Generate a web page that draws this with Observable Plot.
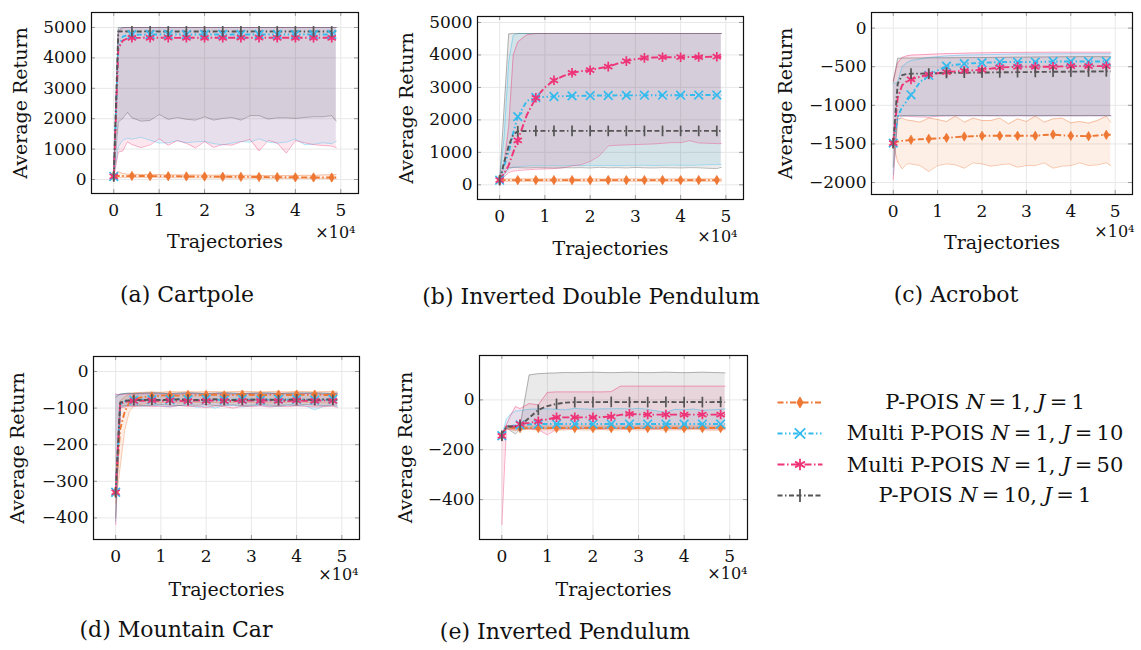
<!DOCTYPE html>
<html><head><meta charset="utf-8">
<script src="https://cdn.jsdelivr.net/npm/d3@7"></script>
<script src="https://cdn.jsdelivr.net/npm/@observablehq/plot@0.6"></script>
<style>
html,body{margin:0;padding:0;background:#fff;}
#root{position:relative;width:1141px;height:650px;overflow:hidden;font-family:"DejaVu Serif",serif;color:#111;}
.panel{position:absolute;}
.cap{position:absolute;font-size:22px;white-space:nowrap;transform:translate(-50%,-50%);}
.leg{position:absolute;font-size:21px;white-space:nowrap;transform:translate(-50%,-50%);}
</style></head><body><div id="root"></div>
<script>
// ---------------- data ----------------
const X = [0,1000,2000,3000,4000,6000,8000,10000,12000,14000,16000,18000,20000,22000,24000,26000,28000,30000,32000,34000,36000,38000,40000,42000,44000,46000,48000,49000];
const X_TICKS = [0,10000,20000,30000,40000,50000];

// (a) Cartpole
const cp_p1_mean = [110,118,115,112,118,115,112,110,108,105,102,100,98,95,92,90,88,85,82,80,78,75,72,70,68,66,65,65];
const cp_p1_lo = [80,60,65,65,70,68,66,64,62,60,58,56,55,52,50,48,46,44,42,40,38,36,34,32,30,30,28,28];
const cp_p1_hi = [140,260,200,175,175,165,160,165,150,155,148,150,145,140,150,138,135,140,130,135,125,130,128,140,135,150,160,165];
const cp_m10_mean = [100,4350,4700,4750,4760,4765,4770,4770,4772,4770,4768,4770,4772,4770,4771,4770,4769,4770,4772,4770,4771,4770,4770,4772,4770,4771,4770,4770];
const cp_m10_lo = [80,1080,1300,1350,1330,1390,1290,1200,1210,1280,1210,1240,1250,1180,1140,1200,1250,1230,1340,1230,1200,1230,1330,1150,1160,1210,1180,1260];
const cp_m10_hi = [120,4920,5000,5000,5000,5000,5000,5000,5000,5000,5000,5000,5000,5000,5000,5000,5000,5000,5000,5000,5000,5000,5000,5000,5000,5000,5000,5000];
const cp_m50_mean = [100,4300,4570,4640,4660,4660,4662,4665,4663,4660,4662,4664,4661,4663,4660,4662,4664,4661,4663,4660,4662,4664,4661,4663,4660,4662,4661,4661];
const cp_m50_lo = [80,900,940,1240,1150,1050,1140,1340,1130,1280,1190,1040,1250,1060,1150,1130,1240,1320,940,1290,1200,870,1280,1210,1150,1120,1100,1050];
const cp_m50_hi = [120,4880,4990,5000,5000,5000,5000,5000,5000,5000,5000,5000,5000,5000,5000,5000,5000,5000,5000,5000,5000,5000,5000,5000,5000,5000,5000,5000];
const cp_p10_mean = [100,4870,4872,4870,4871,4870,4872,4870,4871,4870,4872,4870,4871,4870,4872,4870,4871,4870,4872,4870,4871,4870,4872,4870,4871,4870,4871,4871];
const cp_p10_lo = [80,1900,2010,2210,2030,1920,1945,2140,1980,2040,1980,1955,2065,1955,2010,2040,1955,2100,2100,1990,2030,2030,2010,2040,2065,2065,2100,1920];
const cp_p10_hi = [120,5000,5000,5000,5000,5000,5000,5000,5000,5000,5000,5000,5000,5000,5000,5000,5000,5000,5000,5000,5000,5000,5000,5000,5000,5000,5000,5000];

// (b) Inverted Double Pendulum
const idp_p1_mean = [143,145,146,144,145,146,145,144,145,146,145,144,145,145,146,145,144,145,145,146,145,144,145,145,146,145,145,145];
const idp_p1_lo = [143,110,108,106,108,107,105,108,106,107,105,108,106,107,105,108,106,107,105,108,106,107,105,108,106,107,106,107];
const idp_p1_hi = [143,180,182,183,181,184,182,181,183,182,184,181,183,182,181,184,182,183,181,182,184,181,183,182,181,184,182,183];
const idp_m10_mean = [143,600,1000,1600,2100,2580,2690,2710,2720,2730,2740,2740,2745,2750,2750,2755,2755,2755,2760,2760,2760,2760,2760,2765,2765,2765,2765,2765];
const idp_m10_lo = [143,300,480,540,560,580,590,585,590,585,595,590,600,595,600,590,600,600,605,595,600,610,605,600,610,620,630,630];
const idp_m10_hi = [143,1500,3800,4600,4660,4660,4660,4660,4660,4660,4660,4660,4660,4660,4660,4660,4660,4660,4660,4660,4660,4660,4660,4660,4660,4660,4660,4660];
const idp_m50_mean = [143,350,600,1000,1370,2150,2680,3000,3220,3350,3450,3500,3530,3590,3640,3730,3810,3870,3910,3920,3930,3930,3930,3935,3935,3940,3945,3945];
const idp_m50_lo = [143,250,380,420,440,460,480,490,500,520,585,620,720,890,1200,1220,1230,1240,1250,1260,1280,1300,1300,1360,1290,1280,1270,1270];
const idp_m50_hi = [143,700,1800,4000,4400,4620,4660,4660,4660,4660,4660,4660,4660,4660,4660,4660,4660,4660,4660,4660,4660,4660,4660,4660,4660,4660,4660,4660];
const idp_p10_mean = [143,700,1200,1550,1650,1660,1660,1660,1660,1660,1660,1660,1660,1660,1660,1660,1660,1660,1660,1660,1660,1660,1660,1660,1660,1660,1660,1660];
const idp_p10_lo = [143,350,530,540,530,520,530,525,520,530,525,530,520,540,525,530,520,535,525,520,530,525,520,530,525,510,500,540];
const idp_p10_hi = [143,2400,4650,4660,4660,4660,4660,4660,4660,4660,4660,4660,4660,4660,4660,4660,4660,4660,4660,4660,4660,4660,4660,4660,4660,4660,4660,4660];

// (c) Acrobot
const ac_p1_mean = [-1490,-1470,-1460,-1455,-1447,-1440,-1434,-1428,-1421,-1412,-1404,-1400,-1395,-1395,-1395,-1395,-1395,-1395,-1395,-1385,-1378,-1388,-1395,-1398,-1400,-1390,-1382,-1382];
const ac_p1_lo = [-1500,-1737,-1823,-1760,-1758,-1780,-1857,-1780,-1758,-1771,-1814,-1745,-1758,-1788,-1771,-1758,-1801,-1780,-1780,-1745,-1814,-1788,-1780,-1745,-1780,-1771,-1745,-1780];
const ac_p1_hi = [-1480,-1175,-1166,-1190,-1197,-1218,-1166,-1184,-1210,-1140,-1218,-1166,-1197,-1197,-1166,-1240,-1175,-1210,-1140,-1218,-1175,-1166,-1227,-1210,-1231,-1197,-1140,-1218];
const ac_m10_mean = [-1490,-1150,-1020,-950,-864,-700,-613,-549,-492,-475,-462,-455,-449,-445,-440,-440,-440,-440,-440,-436,-432,-432,-432,-432,-432,-432,-432,-432];
const ac_m10_lo = [-1900,-1200,-1140,-1138,-1136,-1135,-1135,-1136,-1135,-1134,-1135,-1136,-1135,-1134,-1135,-1136,-1135,-1134,-1135,-1136,-1135,-1134,-1135,-1136,-1135,-1134,-1135,-1135];
const ac_m10_hi = [-720,-700,-500,-450,-420,-400,-380,-370,-360,-355,-350,-348,-345,-342,-340,-338,-336,-335,-335,-334,-333,-333,-332,-332,-332,-332,-332,-332];
const ac_m50_mean = [-1490,-900,-740,-690,-665,-630,-600,-585,-570,-560,-553,-546,-540,-525,-510,-505,-501,-501,-501,-501,-501,-496,-492,-492,-492,-492,-492,-492];
const ac_m50_lo = [-1960,-1150,-1138,-1140,-1145,-1150,-1155,-1140,-1138,-1136,-1135,-1136,-1135,-1137,-1135,-1136,-1135,-1137,-1135,-1136,-1135,-1137,-1135,-1136,-1135,-1137,-1135,-1135];
const ac_m50_hi = [-680,-450,-380,-360,-350,-345,-340,-335,-330,-328,-325,-322,-320,-318,-316,-315,-315,-314,-313,-313,-312,-312,-312,-312,-312,-312,-312,-312];
const ac_p10_mean = [-1490,-720,-610,-595,-590,-590,-588,-585,-582,-580,-578,-576,-575,-574,-573,-572,-570,-570,-568,-567,-566,-565,-564,-563,-562,-561,-560,-560];
const ac_p10_lo = [-1800,-1130,-1132,-1132,-1131,-1132,-1133,-1132,-1131,-1132,-1133,-1132,-1131,-1132,-1133,-1132,-1131,-1132,-1133,-1132,-1131,-1132,-1133,-1132,-1131,-1132,-1132,-1132];
const ac_p10_hi = [-700,-390,-389,-388,-388,-387,-386,-385,-385,-384,-383,-382,-381,-380,-379,-378,-377,-376,-375,-374,-373,-372,-371,-370,-370,-370,-370,-370];

// (d) Mountain Car
const mc_p1_mean = [-330,-157,-110,-85,-75,-70,-68,-66,-65,-66,-64,-65,-64,-63,-65,-64,-63,-64,-65,-64,-63,-64,-63,-64,-63,-64,-64,-64];
const mc_p1_lo = [-360,-260,-160,-110,-95,-88,-86,-85,-84,-86,-83,-85,-84,-85,-86,-84,-83,-85,-84,-86,-85,-84,-83,-85,-84,-86,-85,-85];
const mc_p1_hi = [-300,-80,-70,-62,-58,-57,-56,-57,-55,-56,-55,-56,-55,-55,-56,-55,-54,-55,-56,-55,-55,-56,-54,-55,-56,-55,-55,-56];
const mc_m10_mean = [-330,-90,-82,-79,-78,-77,-77,-78,-77,-76,-77,-78,-76,-77,-78,-77,-76,-77,-78,-77,-76,-77,-76,-77,-78,-77,-76,-77];
const mc_m10_lo = [-410,-98,-95,-92,-93,-95,-92,-94,-96,-93,-92,-98,-94,-100,-93,-92,-97,-94,-93,-95,-96,-92,-93,-94,-105,-95,-93,-96];
const mc_m10_hi = [-65,-62,-60,-60,-61,-60,-59,-60,-61,-60,-59,-60,-61,-60,-59,-60,-61,-60,-60,-59,-60,-61,-60,-59,-60,-61,-60,-60];
const mc_m50_mean = [-330,-88,-83,-81,-80,-80,-79,-80,-79,-80,-81,-79,-80,-79,-80,-81,-80,-79,-80,-79,-80,-81,-79,-80,-80,-79,-80,-80];
const mc_m50_lo = [-418,-100,-97,-95,-96,-94,-96,-95,-97,-93,-96,-95,-99,-94,-96,-100,-95,-96,-94,-97,-95,-96,-94,-95,-97,-96,-95,-98];
const mc_m50_hi = [-62,-63,-62,-61,-62,-61,-60,-62,-61,-62,-60,-61,-62,-61,-60,-62,-61,-60,-62,-61,-60,-61,-62,-60,-61,-62,-61,-61];
const mc_p10_mean = [-330,-85,-80,-79,-78,-78,-77,-78,-77,-76,-77,-78,-77,-76,-77,-78,-77,-77,-76,-77,-78,-77,-76,-77,-77,-76,-77,-77];
const mc_p10_lo = [-400,-95,-93,-92,-91,-93,-92,-90,-92,-93,-91,-92,-90,-93,-92,-91,-93,-92,-90,-92,-93,-91,-92,-90,-92,-93,-91,-92];
const mc_p10_hi = [-70,-62,-60,-59,-60,-59,-58,-59,-60,-59,-58,-59,-60,-59,-58,-59,-60,-59,-58,-59,-60,-59,-58,-59,-58,-59,-60,-59];

// (e) Inverted Pendulum
const ip_p1_mean = [-144,-110,-112,-113,-113,-113,-113,-113,-113,-113,-113,-113,-113,-113,-113,-113,-113,-113,-113,-113,-113,-113,-113,-113,-113,-113,-113,-113];
const ip_p1_lo = [-144,-118,-120,-122,-120,-118,-121,-119,-122,-120,-118,-121,-120,-119,-122,-120,-118,-121,-120,-119,-122,-120,-121,-119,-120,-122,-121,-120];
const ip_p1_hi = [-144,-104,-105,-106,-106,-105,-106,-105,-106,-105,-106,-105,-106,-105,-106,-105,-106,-105,-106,-105,-106,-105,-106,-105,-106,-105,-106,-105];
const ip_m10_mean = [-144,-107,-105,-103,-100,-98,-97,-97,-97,-97,-97,-97,-97,-97,-97,-97,-97,-97,-97,-97,-97,-97,-97,-97,-97,-97,-97,-97];
const ip_m10_lo = [-144,-112,-112,-111,-112,-112,-111,-112,-112,-111,-112,-112,-111,-112,-112,-111,-112,-112,-111,-112,-112,-111,-112,-112,-111,-112,-112,-112];
const ip_m10_hi = [-144,-77,-56,-45,-43,-38,-36,-36,-38,-40,-34,-37,-38,-36,-36,-35,-37,-34,-38,-45,-50,-38,-40,-37,-42,-40,-38,-36];
const ip_m50_mean = [-144,-107,-107,-107,-97,-92,-86,-78,-70,-70,-70,-70,-70,-69,-67,-60,-56,-58,-59,-59,-59,-59,-59,-59,-59,-59,-59,-59];
const ip_m50_lo = [-500,-115,-118,-120,-118,-116,-120,-140,-118,-116,-117,-115,-116,-117,-115,-116,-117,-115,-116,-117,-115,-116,-117,-115,-116,-117,-116,-116];
const ip_m50_hi = [-144,-100,-60,-27,-35,-15,-20,30,32,32,32,32,32,32,33,55,55,55,55,55,55,55,55,55,55,55,55,55];
const ip_p10_mean = [-144,-107,-107,-107,-103,-72,-40,-25,-16,-11,-9,-9,-9,-9,-8,-9,-9,-8,-9,-9,-8,-9,-9,-8,-9,-9,-8,-9];
const ip_p10_lo = [-144,-112,-125,-137,-115,-114,-115,-114,-113,-114,-115,-114,-113,-114,-115,-114,-113,-114,-115,-114,-113,-114,-115,-114,-113,-114,-114,-114];
const ip_p10_hi = [-144,-105,-107,-110,-105,100,105,107,108,110,109,110,111,110,109,110,111,110,109,110,111,110,109,110,111,110,109,108];

const LEGEND_METHODS = ["P-POIS", "Multi P-POIS", "Multi P-POIS", "P-POIS"];
const LEGEND_N = [1, 1, 1, 10];
const LEGEND_J = [1, 10, 50, 1];
const CAPTIONS = ["(a) Cartpole", "(b) Inverted Double Pendulum", "(c) Acrobot", "(d) Mountain Car", "(e) Inverted Pendulum"];

// ---------------- styles ----------------
const vbar = { draw(ctx, size) { const h = Math.sqrt(size) * 0.75; ctx.moveTo(0, -h); ctx.lineTo(0, h); } };
const STY = [
  {color: "#EE7733", dash: "6,2.5,1.5,2.5", symbol: "diamond", r: 2.8, filled: true},
  {color: "#33BBEE", dash: "5,2.5,1.5,2.5,1.5,2.5", symbol: "times", r: 4, filled: false},
  {color: "#EE3377", dash: "7,2.5,1.5,2.5", symbol: "asterisk", r: 4.5, filled: false},
  {color: "#555555", dash: "5,2.5,1.5,2.5,5,2.5", symbol: vbar, r: 4, filled: false}
];
const X_DOMAIN = [-4900, 53900];
const fmtY = d => d < 0 ? "\u2212" + (-d) : String(d);

const PANELS = [
  {box: [0, 0, 380, 260], margin: [12, 22, 67, 91], yDomain: [-460, 5493], yTicks: [0,1000,2000,3000,4000,5000],
   series: [[cp_p1_mean, cp_p1_lo, cp_p1_hi], [cp_m10_mean, cp_m10_lo, cp_m10_hi], [cp_m50_mean, cp_m50_lo, cp_m50_hi], [cp_p10_mean, cp_p10_lo, cp_p10_hi]],
   ylabDx: -71, xlabDy: 48, expDx: -3, expDy: 39, cap: [187, 294]},
  {box: [380, 0, 380, 260], margin: [16, 17, 61, 97], yDomain: [-452, 5184], yTicks: [0,1000,2000,3000,4000,5000],
   series: [[idp_p1_mean, idp_p1_lo, idp_p1_hi], [idp_m10_mean, idp_m10_lo, idp_m10_hi], [idp_m50_mean, idp_m50_lo, idp_m50_hi], [idp_p10_mean, idp_p10_lo, idp_p10_hi]],
   ylabDx: -71, xlabDy: 49, expDx: -6, expDy: 37, cap: [591, 296]},
  {box: [760, 0, 381, 260], margin: [12, 9, 66, 111], yDomain: [-2155, 202], yTicks: [-2000,-1500,-1000,-500,0],
   series: [[ac_p1_mean, ac_p1_lo, ac_p1_hi], [ac_m10_mean, ac_m10_lo, ac_m10_hi], [ac_m50_mean, ac_m50_lo, ac_m50_hi], [ac_p10_mean, ac_p10_lo, ac_p10_hi]],
   ylabDx: -86, xlabDy: 48, expDx: 2, expDy: 37, cap: [956, 294]},
  {box: [0, 340, 380, 260], margin: [16, 21, 61, 93], yDomain: [-459, 41], yTicks: [-400,-300,-200,-100,0],
   series: [[mc_p1_mean, mc_p1_lo, mc_p1_hi], [mc_m10_mean, mc_m10_lo, mc_m10_hi], [mc_m50_mean, mc_m50_lo, mc_m50_hi], [mc_p10_mean, mc_p10_lo, mc_p10_hi]],
   ylabDx: -76, xlabDy: 50, expDx: -1, expDy: 35, cap: [176, 629]},
  {box: [380, 340, 380, 260], margin: [15, 13, 61, 99], yDomain: [-560, 178], yTicks: [-400,-200,0],
   series: [[ip_p1_mean, ip_p1_lo, ip_p1_hi], [ip_m10_mean, ip_m10_lo, ip_m10_hi], [ip_m50_mean, ip_m50_lo, ip_m50_hi], [ip_p10_mean, ip_p10_lo, ip_p10_hi]],
   ylabDx: -74, xlabDy: 50, expDx: 0, expDy: 34, cap: [565, 631]}
];

const root = document.getElementById("root");

function makePanel(p) {
  const [left, top, width, height] = p.box;
  const [mt, mr, mb, ml] = p.margin;
  const fw = width - ml - mr, fh = height - mt - mb;
  const tables = p.series.map(s => X.map((x, i) => ({x, mean: s[0][i], lo: s[1][i], hi: s[2][i]})));
  const marks = [];
  marks.push(Plot.ruleX(X_TICKS, {x: d => d, stroke: "#e8e8e8", strokeWidth: 1}));
  marks.push(Plot.ruleY(p.yTicks, {y: d => d, stroke: "#e8e8e8", strokeWidth: 1}));
  tables.forEach((t, k) => marks.push(Plot.areaY(t, {x: "x", y1: "lo", y2: "hi", fill: STY[k].color, fillOpacity: 0.12})));
  tables.forEach((t, k) => {
    marks.push(Plot.line(t, {x: "x", y: "lo", stroke: STY[k].color, strokeOpacity: 0.45, strokeWidth: 0.9}));
    marks.push(Plot.line(t, {x: "x", y: "hi", stroke: STY[k].color, strokeOpacity: 0.45, strokeWidth: 0.9}));
  });
  tables.forEach((t, k) => marks.push(Plot.line(t, {x: "x", y: "mean", stroke: STY[k].color, strokeWidth: 1.9,
    strokeDasharray: STY[k].dash, strokeLinecap: "butt"})));
  tables.forEach((t, k) => marks.push(Plot.dot(t.filter(d => d.x % 4000 === 0), {x: "x", y: "mean",
    symbol: STY[k].symbol, r: STY[k].r, fill: STY[k].filled ? STY[k].color : "none", stroke: STY[k].color,
    strokeWidth: STY[k].filled ? 0.8 : 1.7})));
  // inner tick marks
  marks.push(Plot.tickX(X_TICKS, {x: d => d, stroke: "#9a9a9a", insetTop: fh - 4}));
  marks.push(Plot.tickX(X_TICKS, {x: d => d, stroke: "#9a9a9a", insetBottom: fh - 4}));
  marks.push(Plot.tickY(p.yTicks, {y: d => d, stroke: "#9a9a9a", insetRight: fw - 4}));
  marks.push(Plot.tickY(p.yTicks, {y: d => d, stroke: "#9a9a9a", insetLeft: fw - 4}));
  marks.push(Plot.frame({stroke: "#111", strokeWidth: 1.2}));
  marks.push(Plot.axisX({ticks: X_TICKS, tickFormat: d => String(d / 10000), tickSize: 0, tickPadding: 10, label: null}));
  marks.push(Plot.axisY({ticks: p.yTicks, tickFormat: fmtY, tickSize: 0, tickPadding: 5, label: null}));
  marks.push(Plot.text(["Average Return"], {text: d => d, frameAnchor: "left", textAnchor: "middle", lineAnchor: "middle",
    rotate: -90, dx: p.ylabDx, fontSize: 19}));
  marks.push(Plot.text(["Trajectories"], {text: d => d, frameAnchor: "bottom", textAnchor: "middle", lineAnchor: "middle",
    dy: p.xlabDy, fontSize: 19}));
  marks.push(Plot.text(["\u00d710\u2074"], {text: d => d, frameAnchor: "bottom-right", textAnchor: "end", lineAnchor: "middle",
    dx: p.expDx, dy: p.expDy, fontSize: 16}));
  const svg = Plot.plot({
    width, height, marginTop: mt, marginRight: mr, marginBottom: mb, marginLeft: ml,
    x: {domain: X_DOMAIN}, y: {domain: p.yDomain},
    style: {fontFamily: "DejaVu Serif", fontSize: "17px", color: "#111", background: "transparent", overflow: "visible"},
    marks
  });
  const div = document.createElement("div");
  div.className = "panel";
  div.style.left = left + "px"; div.style.top = top + "px"; div.style.width = width + "px"; div.style.height = height + "px";
  div.appendChild(svg);
  root.appendChild(div);
}
PANELS.forEach(makePanel);

PANELS.forEach((p, i) => {
  const c = document.createElement("div");
  c.className = "cap";
  c.textContent = CAPTIONS[i];
  c.style.left = p.cap[0] + "px"; c.style.top = p.cap[1] + "px";
  root.appendChild(c);
});

// legend swatches
const legIdx = LEGEND_METHODS.map((_, i) => i);
const legMarks = [];
legIdx.forEach(i => {
  legMarks.push(Plot.line([{x: 0, y: i}, {x: 1, y: i}], {x: "x", y: "y", stroke: STY[i].color, strokeWidth: 1.9, strokeDasharray: STY[i].dash, strokeLinecap: "butt"}));
  legMarks.push(Plot.dot([{x: 0.5, y: i}], {x: "x", y: "y", symbol: STY[i].symbol, r: STY[i].r * 1.2,
    fill: STY[i].filled ? STY[i].color : "none", stroke: STY[i].color, strokeWidth: STY[i].filled ? 0.8 : 1.8}));
});
const legSvg = Plot.plot({width: 60, height: 125, marginTop: 17, marginBottom: 15, marginLeft: 7, marginRight: 8,
  x: {domain: [0, 1], axis: null}, y: {domain: [0, 3], reverse: true, axis: null},
  style: {background: "transparent", overflow: "visible"}, marks: legMarks});
const ld = document.createElement("div");
ld.className = "panel"; ld.style.left = "770px"; ld.style.top = "385px";
ld.appendChild(legSvg); root.appendChild(ld);
const LEG_Y = [402, 433, 465, 495];
legIdx.forEach(i => {
  const t = document.createElement("div");
  t.className = "leg";
  t.innerHTML = `${LEGEND_METHODS[i]} <i>N</i>\u2009=\u2009${LEGEND_N[i]}, <i>J</i>\u2009=\u2009${LEGEND_J[i]}`;
  t.style.left = "985px"; t.style.top = LEG_Y[i] + "px";
  root.appendChild(t);
});
</script></body></html>
